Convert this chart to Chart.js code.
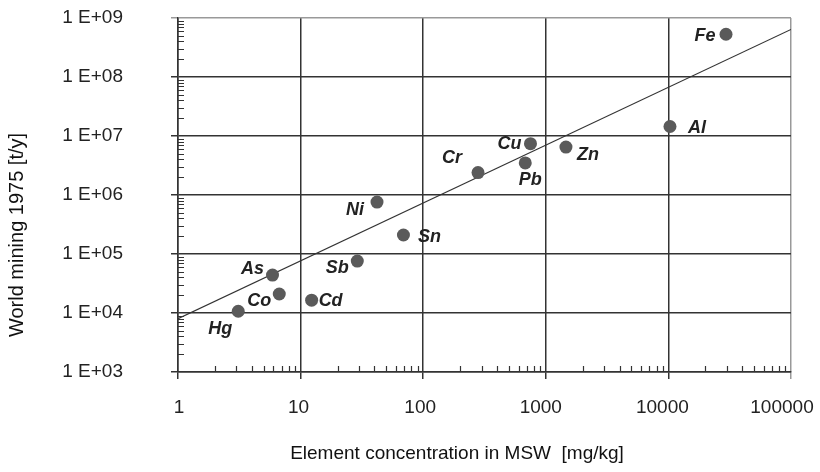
<!DOCTYPE html>
<html>
<head>
<meta charset="utf-8">
<script src="https://cdn.jsdelivr.net/npm/chart.js@4/dist/chart.umd.min.js"></script>
<style>
html, body { margin: 0; padding: 0; background: #fff; }
</style>
</head>
<body>
<canvas id="mswChart" width="820" height="472"></canvas>
<script>
// element data
var elements = ['Fe', 'Al', 'Zn', 'Cu', 'Pb', 'Cr', 'Ni', 'Sn', 'Sb', 'Cd', 'As', 'Co', 'Hg']
var concentration = [29500, 10300, 1460, 750, 680, 280, 42, 69, 29, 12.3, 5.9, 6.7, 3.1]   // mg/kg
var mining = [5.3e8, 1.45e7, 6.5e6, 7.4e6, 3.5e6, 2.4e6, 7.6e5, 2.1e5, 7.6e4, 1.65e4, 4.4e4, 2.1e4, 1.07e4] // t/y
var trendX = [1, 100000]
var trendY = [8000, 6.4e8]
var xTicks = [1, 10, 100, 1000, 10000, 100000]
var yTicks = [1e3, 1e4, 1e5, 1e6, 1e7, 1e8, 1e9]
var yTickLabels = ['1 E+03', '1 E+04', '1 E+05', '1 E+06', '1 E+07', '1 E+08', '1 E+09']
var xTitle = 'Element concentration in MSW  [mg/kg]'
var yTitle = 'World mining 1975 [t/y]'

// where each element name sits relative to its dot (px)
var labelOffset = {
    Fe: [-21, 2], Al: [27, 2], Zn: [22, 8], Cu: [-21, 0], Pb: [5, 17], Cr: [-26, -15],
    Ni: [-22, 8], Sn: [26, 2], Sb: [-20, 7], Cd: [19, 1], As: [-20, -6], Co: [-20, 7], Hg: [-18, 18]
}
// the x tick labels drift left of their gridlines in the original
var xLabelNudge = [1, -2, -3, -5, -6, -9]

var points = concentration.map(function (c, i) { return { x: c, y: mining[i] } })
var trend = trendX.map(function (x, i) { return { x: x, y: trendY[i] } })

var axisColor = '#333'
var font = 'Liberation Sans, Arial, sans-serif'

// minor log ticks on the inside of the axes, element names, x tick labels, axis titles
var extras = {
    id: 'extras',
    afterDatasetsDraw: function (chart) {
        var ctx = chart.ctx
        var xs = chart.scales.x, ys = chart.scales.y
        var area = chart.chartArea
        ctx.save()
        ctx.strokeStyle = axisColor
        ctx.lineWidth = 1.2
        ctx.beginPath()
        for (var d = 1; d < 100000; d *= 10) {
            for (var k = 2; k < 10; k++) {
                var px = Math.round(xs.getPixelForValue(d * k)) + 0.5
                ctx.moveTo(px, area.bottom)
                ctx.lineTo(px, area.bottom - 6)
            }
        }
        for (var e = 1e3; e < 1e9; e *= 10) {
            for (var m = 2; m < 10; m++) {
                var py = Math.round(ys.getPixelForValue(e * m)) + 0.5
                ctx.moveTo(area.left, py)
                ctx.lineTo(area.left + 6, py)
            }
        }
        ctx.stroke()

        var meta = chart.getDatasetMeta(0)
        ctx.fillStyle = '#222'
        ctx.font = 'italic bold 18px ' + font
        ctx.textAlign = 'center'
        ctx.textBaseline = 'middle'
        meta.data.forEach(function (pt, i) {
            var off = labelOffset[elements[i]]
            ctx.fillText(elements[i], pt.x + off[0], pt.y + off[1])
        })

        ctx.font = '19px ' + font
        xs.ticks.forEach(function (t, i) {
            ctx.fillText(String(t.value), xs.getPixelForValue(t.value) + xLabelNudge[i], area.bottom + 36)
        })

        // axis titles (off-centre in the original, so drawn by hand)
        ctx.fillStyle = '#111'
        ctx.fillText(xTitle, area.left + 279, area.bottom + 82)
        ctx.font = '20px ' + font
        ctx.translate(17, area.top + 217)
        ctx.rotate(-Math.PI / 2)
        ctx.fillText(yTitle, 0, 0)
        ctx.restore()
    }
}

var ctx = document.getElementById('mswChart').getContext('2d')
var chart = new Chart(ctx, {
    type: 'scatter',
    data: {
        datasets: [{
            label: 'elements',
            data: points,
            backgroundColor: '#5a5a5a',
            borderWidth: 0,
            pointRadius: 6.5,
            pointHoverRadius: 6.5
        }, {
            label: 'trend',
            data: trend,
            showLine: true,
            borderColor: '#333',
            borderWidth: 1.2,
            pointRadius: 0
        }]
    },
    options: {
        responsive: false,
        animation: false,
        layout: { padding: { top: 18, right: 29, left: 0, bottom: 0 } },
        plugins: { legend: { display: false }, tooltip: { enabled: false } },
        scales: {
            x: {
                type: 'logarithmic',
                min: 1,
                max: 100000,
                afterBuildTicks: function (scale) {
                    scale.ticks = xTicks.map(function (v) { return { value: v } })
                },
                afterFit: function (scale) {
                    scale.height = 100
                    scale.paddingLeft = 0
                    scale.paddingRight = 0
                },
                ticks: { display: false },
                grid: {
                    color: function (c) { return c.index === xTicks.length - 1 ? '#999' : axisColor },
                    lineWidth: 1.5,
                    tickLength: 7
                },
                border: { color: axisColor, width: 1.5 }
            },
            y: {
                type: 'logarithmic',
                min: 1e3,
                max: 1e9,
                afterBuildTicks: function (scale) {
                    scale.ticks = yTicks.map(function (v) { return { value: v } })
                },
                afterFit: function (scale) {
                    scale.width = 178
                    scale.paddingTop = 0
                    scale.paddingBottom = 0
                },
                ticks: {
                    color: '#222',
                    font: { family: font, size: 19 },
                    padding: 48,
                    callback: function (v) { return yTickLabels[yTicks.indexOf(v)] }
                },
                grid: {
                    color: function (c) { return c.index === yTicks.length - 1 ? '#999' : axisColor },
                    lineWidth: 1.5,
                    tickLength: 7
                },
                border: { color: axisColor, width: 1.5 }
            }
        }
    },
    plugins: [extras]
});
</script>
</body>
</html>
